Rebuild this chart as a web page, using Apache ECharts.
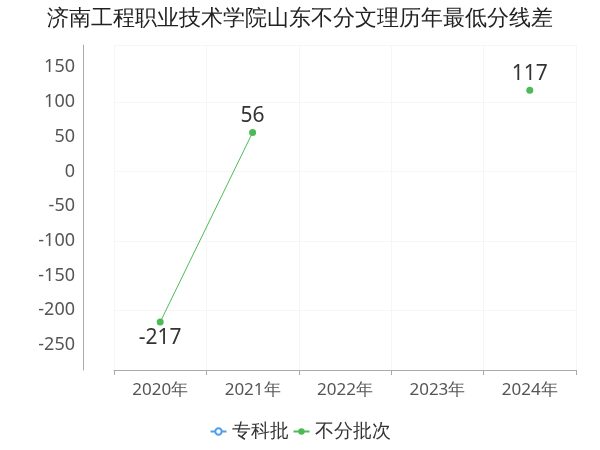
<!DOCTYPE html><html><head><meta charset="utf-8"><script src="https://cdn.jsdelivr.net/npm/echarts@6/dist/echarts.min.js"></script></head><body style="margin:0"><div id="c" style="width:600px;height:450px"></div><script>
const categories=['2020年','2021年','2022年','2023年','2024年'];
const zhuanke=[null,null,null,null,null];
const bufen=[-217,56,null,null,117];
const yTicks=[-250,-200,-150,-100,-50,0,50,100,150];
const ch=echarts.init(document.getElementById('c'));
const F='"Noto Sans","DejaVu Sans",sans-serif';
ch.setOption({
title:{text:'济南工程职业技术学院山东不分文理历年最低分线差',left:'center',top:3,textStyle:{fontSize:22,fontWeight:'normal',color:'#222',fontFamily:F}},
legend:{bottom:4,itemGap:4,itemWidth:16,itemHeight:8,textStyle:{fontSize:19,color:'#333',fontFamily:F},data:['专科批','不分批次']},
grid:{left:114,right:24,top:45,bottom:80},
xAxis:{type:'category',data:categories,axisLine:{onZero:false,lineStyle:{color:'#aaa'}},axisTick:{show:true,lineStyle:{color:'#aaa'}},axisLabel:{fontSize:17,color:'#555',fontFamily:F,margin:12},splitLine:{show:true,lineStyle:{color:'#f6f6f6'}}},
yAxis:{type:'value',min:-286,max:182,offset:31,axisLine:{show:true,lineStyle:{color:'#aaa'}},axisTick:{show:false},
axisLabel:{customValues:yTicks,fontSize:18,color:'#555',fontFamily:F},
splitLine:{show:true,lineStyle:{color:'#f6f6f6'}}},
series:[
{name:'专科批',type:'line',data:zhuanke,symbolSize:6,itemStyle:{color:'#4e9eea'}},
{name:'不分批次',type:'line',symbol:'circle',symbolSize:7,connectNulls:false,itemStyle:{color:'#4cbb55'},lineStyle:{width:1},
label:{show:true,fontSize:21,color:'#333',fontFamily:F,distance:2,formatter:p=>p.value},
data:bufen.map(v=>v===null?null:{value:v,label:{position:v<0?'bottom':'top'}})}
]});
</script></body></html>
